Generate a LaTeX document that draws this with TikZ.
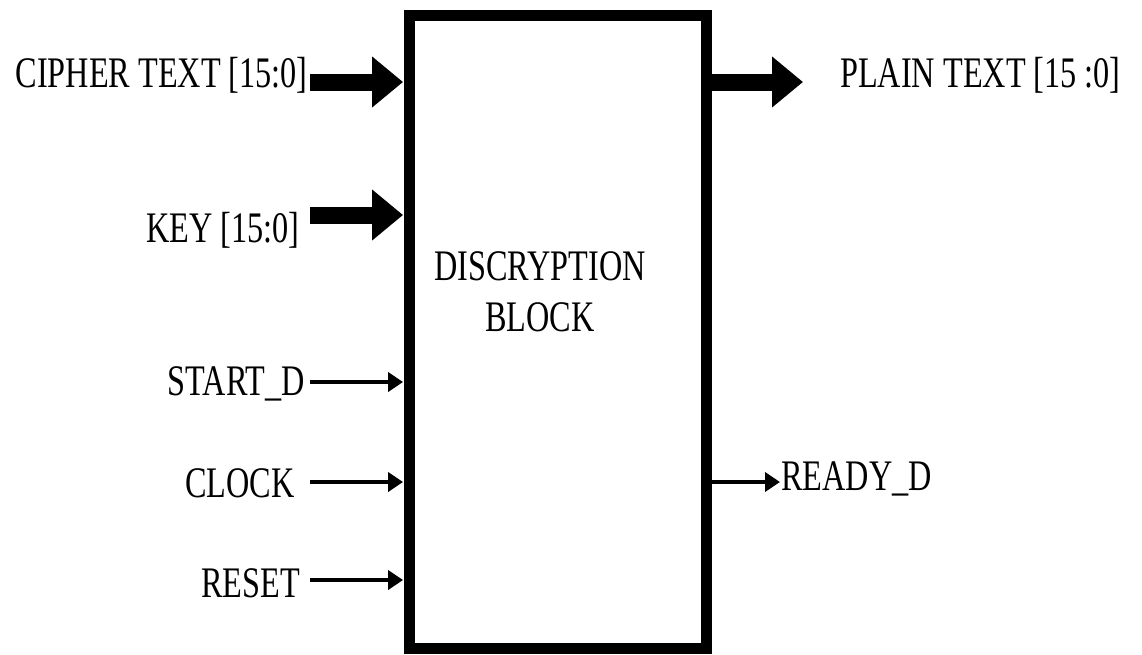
\documentclass[tikz,border=0pt]{standalone}
\usepackage{fontspec}
\setmainfont{Liberation Serif}[FakeStretch=0.74]
\usetikzlibrary{arrows.meta,calc}
\tikzstyle{block}=[draw,line width=0.275cm,minimum width=7.425cm,minimum height=15.8cm,inner sep=0pt,outer sep=0pt]
\tikzstyle{port}=[inner sep=0pt,font=\fontsize{31}{36}\selectfont]
\tikzstyle{bus} = [line width=0.425cm,-{Triangle[length=0.775cm,width=1.225cm]}]
\tikzstyle{wire} = [line width=0.1cm,-{Triangle[length=0.375cm,width=0.475cm]}]

\begin{document}
\begin{tikzpicture}[x=0.025cm,y=-0.025cm]
    \useasboundingbox (0,0) rectangle (1142,654);
    % Draw the decryption block
    \node[block] (dec) at (558,332) {};
    \node[port,align=center] (title) at (540,292) {DISCRYPTION\\BLOCK};

    % Then the port names, inputs on the left
    \foreach \pos/\name/\text in {{(308,87)/cipher/CIPHER TEXT [15:0]}, {(300,242)/key/KEY [15:0]}, {(305,395)/start/START\_D}, {(295,497)/clock/CLOCK}, {(300,597)/reset/RESET}}
        \node[port,anchor=base east] (\name) at \pos {\text};
    % and outputs on the right
    \foreach \pos/\name/\text in {{(840,87)/plain/PLAIN TEXT [15 :0]}, {(781,490)/ready/READY\_D}}
        \node[port,anchor=base west] (\name) at \pos {\text};

    % Connect the ports with the block
    \foreach \name/\dx/\dy/\kind in {cipher/2/-5/bus, key/10/-27/bus, start/5/-13/wire, clock/15/-15/wire, reset/10/-17/wire}
    {
        \coordinate (\name-in) at ($(\name.base east)+(\dx,\dy)$);
        \draw[\kind,shorten >=0.16cm] (\name-in) -- (\name-in -| dec.west);
    }
    \foreach \name/\dx/\dy/\kind in {plain/-37/-5/bus, ready/-1/-8/wire}
    {
        \coordinate (\name-out) at ($(\name.base west)+(\dx,\dy)$);
        \draw[\kind] (\name-out -| dec.east) -- (\name-out);
    }
\end{tikzpicture}
\end{document}
